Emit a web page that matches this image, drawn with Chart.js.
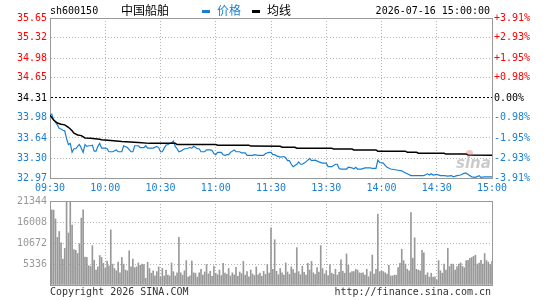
<!DOCTYPE html>
<html>
<head>
<meta charset="utf-8">
<script src="https://cdn.jsdelivr.net/npm/chart.js@4/dist/chart.umd.min.js"></script>
<style>
  body { margin: 0; background: #fff; }
  #wrap { position: relative; width: 545px; height: 300px; overflow: hidden; font-family: "DejaVu Sans Mono", monospace; font-size: 10px; }
  #wrap canvas { position: absolute; left: 0; }
  .t { position: absolute; white-space: nowrap; line-height: 12px; }
  .cjk { font-family: "Noto Sans CJK SC", sans-serif; font-size: 12px; }
  .dash { position: absolute; width: 8px; height: 3px; }
  .mark { position: absolute; left: 456px; top: 154px; font: italic bold 15px "DejaVu Sans", sans-serif; color: rgba(140,140,140,0.45); }
  .eye { position: absolute; left: 466px; top: 150px; width: 7px; height: 6px; border-radius: 50%; background: rgba(230,90,90,0.35); }
</style>
</head>
<body>
<div id="wrap">
  <canvas id="priceChart" width="545" height="200" style="top:0"></canvas>
  <canvas id="volChart" width="545" height="110" style="top:190px"></canvas>

  <div class="t" style="left:50px; top:5px;">sh600150</div>
  <div class="t cjk" style="left:121px; top:4px;">中国船舶</div>
  <div class="dash" style="left:202px; top:10px; background:#1a7fd0;"></div>
  <div class="t cjk" style="left:217px; top:4px; color:#1a7fd0;">价格</div>
  <div class="dash" style="left:252px; top:10px; background:#000;"></div>
  <div class="t cjk" style="left:267px; top:4px;">均线</div>
  <div class="t" style="right:55px; top:5px;">2026-07-16 15:00:00</div>
  <div class="eye"></div>
  <div class="mark">sina</div>

  <div class="t" style="left:50px; top:286px; color:#333;">Copyright 2026 SINA.COM</div>
  <div class="t" style="right:54px; top:286px; color:#333;">http://finance.sina.com.cn</div>
</div>

<script>
// 分时数据 (minute index from 09:30, 0..240)
const timeLabels = ["09:30", "10:00", "10:30", "11:00", "11:30", "13:30", "14:00", "14:30", "15:00"];
const preClose = 34.31;
const priceTicks = [32.97, 33.30, 33.64, 33.98, 34.31, 34.65, 34.98, 35.32, 35.65];
const pctLabels = ["-3.91%", "-2.93%", "-1.95%", "-0.98%", "0.00%", "+0.98%", "+1.95%", "+2.93%", "+3.91%"];
const volTicks = [0, 5336, 10672, 16008, 21344];

const priceTimes = [
  0, 1, 2, 3, 4, 5, 6, 7, 8, 9, 10, 11, 12, 13, 14, 15, 16, 17, 18, 19,
  20, 21, 22, 23, 24, 25, 26, 27, 28, 30, 31, 32, 34, 36, 37, 39, 40, 42, 44, 45,
  46, 48, 49, 51, 52, 53, 56, 58, 59, 60, 61, 62, 63, 64, 65, 66, 67, 68, 69, 70,
  71, 73, 74, 76, 77, 78, 79, 80, 81, 82, 84, 85, 87, 88, 89, 90, 91, 93, 94, 95,
  96, 97, 98, 100, 101, 103, 104, 106, 107, 110, 111, 113, 116, 117, 119, 120, 121, 122, 123, 125,
  127, 128, 129, 130, 131, 132, 134, 135, 136, 137, 138, 139, 140, 141, 142, 144, 146, 148, 150, 151,
  153, 155, 156, 157, 158, 161, 162, 164, 165, 166, 167, 169, 171, 174, 175, 177, 178, 179, 181, 182,
  183, 185, 189, 191, 192, 194, 196, 201, 203, 205, 206, 207, 208, 210, 212, 214, 216, 218, 219, 221,
  223, 225, 226, 227, 229, 231, 233, 234, 236, 238, 240
];
const priceValues = [
  34.02, 34.04, 33.94, 33.90, 33.86, 33.80, 33.79, 33.77, 33.76, 33.63, 33.53, 33.55, 33.40, 33.46, 33.46, 33.50, 33.53, 33.47, 33.40, 33.53,
  33.50, 33.51, 33.51, 33.52, 33.42, 33.42, 33.50, 33.55, 33.47, 33.47, 33.46, 33.41, 33.41, 33.44, 33.41, 33.41, 33.51, 33.48, 33.41, 33.41,
  33.51, 33.51, 33.48, 33.48, 33.51, 33.47, 33.47, 33.50, 33.48, 33.41, 33.41, 33.47, 33.52, 33.53, 33.55, 33.56, 33.59, 33.50, 33.46, 33.41,
  33.42, 33.46, 33.46, 33.48, 33.47, 33.50, 33.48, 33.46, 33.46, 33.41, 33.41, 33.44, 33.44, 33.43, 33.38, 33.36, 33.40, 33.40, 33.36, 33.35,
  33.36, 33.36, 33.40, 33.44, 33.41, 33.41, 33.39, 33.39, 33.35, 33.35, 33.36, 33.35, 33.35, 33.38, 33.40, 33.40, 33.36, 33.36, 33.34, 33.32,
  33.33, 33.31, 33.26, 33.26, 33.20, 33.16, 33.20, 33.24, 33.20, 33.20, 33.22, 33.24, 33.27, 33.30, 33.26, 33.27, 33.24, 33.22, 33.22, 33.16,
  33.16, 33.20, 33.20, 33.13, 33.12, 33.12, 33.15, 33.14, 33.12, 33.15, 33.12, 33.12, 33.14, 33.14, 33.13, 33.13, 33.27, 33.23, 33.22, 33.18,
  33.15, 33.12, 33.10, 33.09, 33.07, 33.04, 33.01, 33.01, 33.01, 33.04, 33.02, 33.04, 33.02, 33.03, 33.01, 33.01, 33.00, 33.01, 32.99, 33.01,
  33.02, 33.05, 33.05, 33.03, 32.99, 32.98, 33.01, 32.98, 32.99, 32.99, 32.99
];

const avgTimes = [0, 2, 4, 6, 8, 10, 12, 13, 15, 17, 19, 22, 27, 28, 33, 39, 48, 54, 68, 69,
  90, 91, 108, 109, 125, 126, 133, 134, 153, 154, 164, 165, 177, 178, 193, 194, 199, 200, 214, 215,
  226, 227, 240];
const avgValues = [34.02, 33.94, 33.89, 33.87, 33.86, 33.82, 33.76, 33.72, 33.69, 33.68, 33.64, 33.635, 33.62, 33.61, 33.60, 33.58, 33.565, 33.55, 33.55, 33.53,
  33.53, 33.52, 33.52, 33.505, 33.50, 33.485, 33.485, 33.47, 33.467, 33.456, 33.456, 33.44, 33.44, 33.42, 33.42, 33.40, 33.40, 33.385, 33.385, 33.37,
  33.37, 33.355, 33.35];

// 成交量, one bar per minute 0..240
const volumes = [
  6250, 19100, 19000, 16800, 12100, 13600, 10700, 6600, 9300, 21344,
  13200, 21000, 15200, 9000, 8800, 8000, 10500, 17000, 19100, 7100,
  7000, 4900, 4700, 10000, 6300, 3800, 4600, 7500, 7000, 5500,
  4200, 6100, 4900, 14000, 5300, 4200, 3600, 5800, 3100, 7000,
  5300, 3800, 3600, 8700, 4600, 6600, 4400, 4600, 5600, 5000,
  5300, 5200, 1700, 5800, 4200, 3000, 3600, 2300, 3400, 4600,
  2000, 4200, 2300, 3800, 2500, 2300, 5600, 3400, 2300, 3100,
  12100, 3100, 2500, 3600, 6200, 2000, 2300, 6100, 3100, 3000,
  2000, 3100, 4000, 2500, 3300, 5200, 2800, 3500, 2200, 4800,
  3000, 2600, 3800, 2400, 5500, 3000, 2700, 4200, 2300, 3100,
  2600, 4500, 2200, 3300, 2900, 6000, 2500, 3400, 2100, 3800,
  2800, 2400, 4600, 2600, 3000, 2200, 3500, 2700, 5200, 3000,
  14500, 4000, 11500, 3500, 2600, 4200, 3100, 2500, 5600, 3300,
  2700, 4600, 3900, 3000, 9500, 3400, 2600, 4800, 3200, 2500,
  5500, 3800, 6000, 3100, 2700, 4400, 3300, 10000, 4200, 2800,
  3600, 2400, 5200, 3000, 2700, 4000, 2500, 3300, 6400, 3500,
  3000, 7900, 5000, 3100, 3400, 3400, 4000, 3800, 3100, 3000,
  3100, 2500, 4000, 2100, 3400, 7600, 2800, 4000, 18000, 3400,
  3600, 3400, 3100, 2800, 5000, 2300, 2300, 2500, 2500, 4400,
  5500, 9100, 6200, 5300, 4000, 3600, 18400, 6800, 12000, 4000,
  3800, 3600, 8800, 8200, 2500, 3100, 2000, 3000, 2000, 2100,
  1300, 6200, 3600, 3000, 5300, 3800, 9300, 4700, 5300, 5300,
  3800, 4700, 5300, 5600, 4700, 4400, 6200, 6300, 6800, 7000,
  7300, 7600, 5300, 5600, 6300, 5300, 8000, 6200, 5800, 5200,
  6000
];

const BLUE = "#1a7fd0";
const RED = "#ff0000";
const FRAME = "#999999";
const DOT = "#b4b4b4";
const monoFont = { family: "DejaVu Sans Mono", size: 10 };
const timeTicks = timeLabels.map((l, i) => i * 30);

function tickColor(i) {
  if (i < 4) return BLUE;
  if (i === 4) return "#000";
  return RED;
}

function gridColor(c, last, mid) {
  if (!c.tick) return FRAME;
  if (c.index === 0 || c.index === last) return FRAME;
  if (c.index === mid) return "#000";
  return DOT;
}

function gridDash(c, last, mid) {
  if (!c.tick) return [];
  if (c.index === 0 || c.index === last) return [];
  if (c.index === mid) return [2, 2];
  return [1, 2];
}

const timeAxis = {
  type: "linear",
  min: 0,
  max: 240,
  offset: false,
  afterBuildTicks: function (s) { s.ticks = timeTicks.map(v => ({ value: v })); },
  grid: {
    offset: false,
    drawTicks: false,
    color: c => gridColor(c, 8, -1)
  },
  border: { color: FRAME, dash: c => gridDash(c, 8, -1) }
};

new Chart(document.getElementById("priceChart"), {
  type: "line",
  data: {
    datasets: [
      {
        label: "均线",
        data: avgTimes.map((t, i) => ({ x: t, y: avgValues[i] })),
        borderColor: "#000",
        borderWidth: 1.5,
        pointRadius: 0
      },
      {
        label: "价格",
        data: priceTimes.map((t, i) => ({ x: t, y: priceValues[i] })),
        borderColor: BLUE,
        borderWidth: 1.2,
        pointRadius: 0
      }
    ]
  },
  options: {
    responsive: false,
    animation: false,
    devicePixelRatio: 1,
    layout: { padding: { top: 18, left: 0, right: 0, bottom: 0 } },
    plugins: { legend: { display: false }, tooltip: { enabled: false } },
    scales: {
      x: Object.assign({}, timeAxis, {
        afterFit: s => { s.height = 22; },
        ticks: {
          autoSkip: false,
          maxRotation: 0,
          padding: 4,
          color: BLUE,
          font: monoFont,
          callback: (v, i) => timeLabels[i]
        }
      }),
      y: {
        position: "left",
        min: priceTicks[0],
        max: priceTicks[priceTicks.length - 1],
        afterBuildTicks: s => { s.ticks = priceTicks.map(v => ({ value: v })); },
        afterFit: s => { s.width = 50; },
        ticks: {
          padding: 3,
          font: monoFont,
          color: c => tickColor(c.index),
          callback: v => v.toFixed(2)
        },
        grid: { drawTicks: false, color: c => gridColor(c, 8, 4) },
        border: { color: FRAME, dash: c => gridDash(c, 8, 4) }
      },
      y2: {
        position: "right",
        min: priceTicks[0],
        max: priceTicks[priceTicks.length - 1],
        afterBuildTicks: s => { s.ticks = priceTicks.map(v => ({ value: v })); },
        afterFit: s => { s.width = 53; },
        ticks: {
          padding: 2,
          font: monoFont,
          color: c => tickColor(c.index),
          callback: (v, i) => pctLabels[i]
        },
        grid: { display: false, drawTicks: false },
        border: { color: FRAME }
      }
    }
  }
});

new Chart(document.getElementById("volChart"), {
  type: "bar",
  data: {
    datasets: [{
      label: "成交量",
      data: volumes.map((v, i) => ({ x: i, y: v })),
      backgroundColor: "#999999",
      barThickness: 1
    }]
  },
  options: {
    responsive: false,
    animation: false,
    devicePixelRatio: 1,
    layout: { padding: { top: 11, left: 0, right: 53, bottom: 0 } },
    plugins: { legend: { display: false }, tooltip: { enabled: false } },
    scales: {
      x: Object.assign({}, timeAxis, {
        afterFit: s => { s.height = 15; },
        ticks: { display: false }
      }),
      y: {
        position: "left",
        min: 0,
        max: volTicks[volTicks.length - 1],
        afterBuildTicks: s => { s.ticks = volTicks.map(v => ({ value: v })); },
        afterFit: s => { s.width = 50; },
        ticks: {
          padding: 3,
          font: monoFont,
          color: "#999",
          callback: v => (v === 0 ? "" : String(v))
        },
        grid: { drawTicks: false, color: c => gridColor(c, 4, -1) },
        border: { color: FRAME, dash: c => gridDash(c, 4, -1) }
      }
    }
  }
});
</script>
</body>
</html>
